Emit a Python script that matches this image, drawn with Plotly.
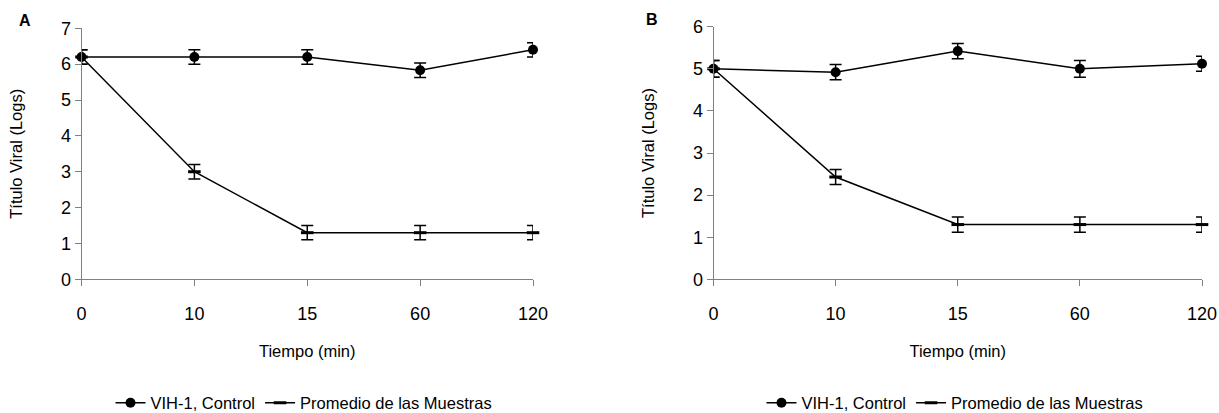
import plotly.graph_objects as go

tiempos = ["0", "10", "15", "60", "120"]

a_control = [6.2, 6.2, 6.2, 5.83, 6.4]
a_control_err = [0.2, 0.2, 0.2, 0.2, 0.2]
a_promedio = [6.2, 3.0, 1.3, 1.3, 1.3]
a_promedio_err = [0.2, 0.2, 0.2, 0.2, 0.2]

b_control = [5.0, 4.92, 5.42, 5.0, 5.12]
b_control_err = [0.2, 0.18, 0.18, 0.2, 0.18]
b_promedio = [5.0, 2.43, 1.3, 1.3, 1.3]
b_promedio_err = [0.2, 0.18, 0.18, 0.18, 0.18]

FONT = "Liberation Sans, Arial, sans-serif"
W, H = 1219, 413

fig = go.Figure()

def add_series(xa, ya, legend, ctrl, ctrl_err, prom, prom_err):
    fig.add_trace(go.Scatter(
        x=tiempos, y=ctrl, xaxis=xa, yaxis=ya, legend=legend,
        name="VIH-1, Control", mode="lines+markers", cliponaxis=False,
        line=dict(color="black", width=1.5),
        marker=dict(symbol="circle", size=10, color="black"),
        error_y=dict(type="data", array=ctrl_err, color="black", thickness=1.5, width=6),
    ))
    fig.add_trace(go.Scatter(
        x=tiempos, y=prom, xaxis=xa, yaxis=ya, legend=legend,
        name="Promedio de las Muestras", mode="lines+markers", cliponaxis=False,
        line=dict(color="black", width=1.5),
        marker=dict(symbol="line-ew", size=9, color="black", line=dict(color="black", width=3)),
        error_y=dict(type="data", array=prom_err, color="black", thickness=1.5, width=6),
    ))

add_series("x", "y", "legend", a_control, a_control_err, a_promedio, a_promedio_err)
add_series("x2", "y2", "legend2", b_control, b_control_err, b_promedio, b_promedio_err)

axcol = "#808080"
xcommon = dict(type="category", categoryorder="array", categoryarray=tiempos,
               range=[0, 4], showgrid=False, zeroline=False, showline=True,
               linecolor=axcol, linewidth=1, ticks="outside", ticklen=6, tickcolor=axcol,
               tickfont=dict(family=FONT, size=18, color="black"),
               ticklabelstandoff=12,
               title=dict(text="Tiempo (min)", font=dict(family=FONT, size=16.5, color="black"), standoff=22))
ycommon = dict(showgrid=False, zeroline=False, showline=True, linecolor=axcol, linewidth=1,
               ticks="outside", ticklen=6, tickcolor=axcol, dtick=1,
               tickfont=dict(family=FONT, size=18, color="black"),
               title=dict(text="Título Viral (Logs)", font=dict(family=FONT, size=16.5, color="black"), standoff=34))

ybot = 1 - 279.3 / H
legfont = dict(family=FONT, size=16.5, color="black")
fig.update_layout(
    width=W, height=H,
    margin=dict(l=0, r=0, t=0, b=0, autoexpand=False),
    paper_bgcolor="white", plot_bgcolor="white",
    showlegend=True,
    xaxis=dict(domain=[81.5 / W, 533 / W], anchor="y", **xcommon),
    yaxis=dict(domain=[ybot, 1 - 28.3 / H], anchor="x", range=[0, 7], **ycommon),
    xaxis2=dict(domain=[713.5 / W, 1202 / W], anchor="y2", **xcommon),
    yaxis2=dict(domain=[ybot, 1 - 26.7 / H], anchor="x2", range=[0, 6], **ycommon),
    legend=dict(orientation="h", x=304 / W, xanchor="center", y=1 - 403 / H, yanchor="middle",
                font=legfont, itemwidth=30, bgcolor="rgba(0,0,0,0)", tracegroupgap=0),
    legend2=dict(orientation="h", x=955 / W, xanchor="center", y=1 - 403 / H, yanchor="middle",
                 font=legfont, itemwidth=30, bgcolor="rgba(0,0,0,0)", tracegroupgap=0),
    annotations=[
        dict(text="<b>A</b>", x=25 / W, y=1 - 21 / H, xref="paper", yref="paper",
             showarrow=False, xanchor="center", yanchor="middle",
             font=dict(family=FONT, size=16, color="black")),
        dict(text="<b>B</b>", x=652 / W, y=1 - 20 / H, xref="paper", yref="paper",
             showarrow=False, xanchor="center", yanchor="middle",
             font=dict(family=FONT, size=16, color="black")),
    ],
)

fig.write_html("out.html")
